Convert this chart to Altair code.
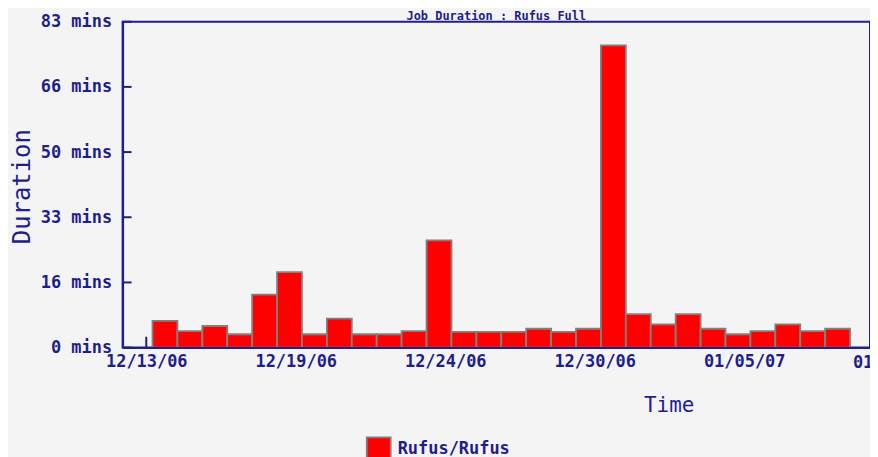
import json
import altair as alt
import pandas as pd

# ---- data ----
days = [
    "2006-12-13", "2006-12-14", "2006-12-15", "2006-12-16", "2006-12-17", "2006-12-18",
    "2006-12-19", "2006-12-20", "2006-12-21", "2006-12-22", "2006-12-23", "2006-12-24",
    "2006-12-25", "2006-12-26", "2006-12-27", "2006-12-28", "2006-12-29", "2006-12-30",
    "2006-12-31", "2007-01-01", "2007-01-02", "2007-01-03", "2007-01-04", "2007-01-05",
    "2007-01-06", "2007-01-07", "2007-01-08", "2007-01-09",
]
durations = [
    6.8, 4.2, 5.5, 3.4, 13.5, 19.2,
    3.4, 7.4, 3.4, 3.4, 4.2, 27.3,
    4.0, 4.0, 4.0, 4.8, 4.0, 4.8,
    77.0, 8.5, 5.9, 8.5, 4.8, 3.4,
    4.2, 5.9, 4.2, 4.8,
]
series_name = "Rufus/Rufus"
y_tick_values = [0, 16.6, 33.2, 49.8, 66.4, 83]
y_tick_labels = ["0 mins", "16 mins", "33 mins", "50 mins", "66 mins", "83 mins"]
x_tick_days = ["2006-12-13", "2006-12-19", "2006-12-25", "2006-12-31", "2007-01-06", "2007-01-12"]
x_tick_labels = ["12/13/06", "12/19/06", "12/24/06", "12/30/06", "01/05/07", "01/11/07"]
title_text = "Job Duration : Rufus Full"

NAVY = "#1e1e8c"
FONT = "DejaVu Sans Mono"
W, H = 750, 327

start = pd.to_datetime(days) + pd.Timedelta(hours=6)
bars = pd.DataFrame({
    "start": start.strftime("%Y-%m-%dT%H:%M:%S"),
    "end": (start + pd.Timedelta(days=1)).strftime("%Y-%m-%dT%H:%M:%S"),
    "duration": durations,
    "series": series_name,
})
yticks = pd.DataFrame({"v": y_tick_values})
xticks = pd.DataFrame({"d": [d + "T00:00:00" for d in x_tick_days], "label": x_tick_labels})

x_domain = [
    alt.DateTime(year=2006, month=12, date=12, hours=1, minutes=12),
    alt.DateTime(year=2007, month=1, date=11, hours=1, minutes=12),
]
x_scale = alt.Scale(domain=x_domain)
y_scale = alt.Scale(domain=[0, 83], nice=False, zero=True)

x_label_expr = (
    json.dumps(x_tick_labels)
    + "[round((datum.value - datetime(2006, 11, 13)) / 518400000)]"
)
y_label_expr = json.dumps(y_tick_labels) + "[round(datum.value / 16.6)]"

x_axis = alt.Axis(
    values=[alt.DateTime(year=int(d[:4]), month=int(d[5:7]), date=int(d[8:10])) for d in x_tick_days],
    labelExpr=x_label_expr, labelFlush=False, labelOverlap=False, labelBound=False,
    ticks=False, tickSize=0, labelPadding=6, grid=False,
    domain=True, domainColor=NAVY, domainWidth=2, zindex=1,
    labelFont=FONT, labelFontSize=17, labelFontWeight="bold", labelColor=NAVY,
    title="Time", titleFont=FONT, titleFontSize=21, titleFontWeight="normal",
    titleColor=NAVY, titleX=548, titleY=58, titleBaseline="middle", titleAlign="center",
)
y_axis = alt.Axis(
    values=y_tick_values, labelExpr=y_label_expr, labelFlush=False,
    ticks=False, tickSize=0, labelPadding=11, grid=False,
    domain=True, domainColor=NAVY, domainWidth=2, zindex=1,
    labelFont=FONT, labelFontSize=17, labelFontWeight="bold", labelColor=NAVY,
    title="Duration", titleFont=FONT, titleFontSize=24, titleFontWeight="normal",
    titleColor=NAVY, titleX=-100, titleY=165, titleBaseline="middle", titleAlign="center",
)

ytick_layer = alt.Chart(yticks).mark_rule(color=NAVY, strokeWidth=2).encode(
    y=alt.Y("v:Q", scale=y_scale, axis=y_axis),
    x=alt.value(0), x2=alt.value(9),
)
xtick_layer = alt.Chart(xticks).mark_rule(color=NAVY, strokeWidth=2, clip=True).encode(
    x=alt.X("d:T", scale=x_scale, axis=x_axis),
    y=alt.value(H), y2=alt.value(H - 11),
)
# the last date label lies past the scale's end, where the axis drops it
last_label_layer = alt.Chart(xticks.tail(1)).mark_text(
    font=FONT, fontSize=17, fontWeight="bold", color=NAVY,
    align="center", baseline="top",
).encode(
    x=alt.X("d:T", scale=x_scale, axis=x_axis),
    y=alt.value(H + 7),
    text="label:N",
)
bar_layer = alt.Chart(bars).mark_rect(stroke="#808080", strokeWidth=1.8).encode(
    x=alt.X("start:T", scale=x_scale, axis=x_axis),
    x2="end:T",
    y=alt.Y("duration:Q", scale=y_scale, axis=y_axis),
    y2=alt.datum(0),
    color=alt.Color(
        "series:N",
        scale=alt.Scale(domain=[series_name], range=["#ff0000"]),
        legend=alt.Legend(
            title=None, orient="none", legendX=244, legendY=416,
            symbolType="square", symbolSize=576, symbolStrokeColor="#808080",
            symbolStrokeWidth=1.8, symbolOpacity=1, symbolFillColor="#ff0000",
            labelFont=FONT, labelFontSize=17, labelFontWeight="bold",
            labelColor=NAVY, labelOffset=6, padding=0,
        ),
    ),
)

chart = alt.layer(ytick_layer, xtick_layer, bar_layer, last_label_layer).properties(
    width=W, height=H,
    title=alt.TitleParams(
        title_text, font=FONT, fontSize=12, fontWeight="bold", color=NAVY,
        anchor="middle", frame="group", offset=0, baseline="alphabetic", dy=19,
    ),
    autosize=alt.AutoSizeParams(type="none"),
    padding={"left": 115, "top": 13, "right": 0, "bottom": 109},
    background="#f4f4f4",
).configure_view(stroke=NAVY, strokeWidth=2)

chart.save("out.html", embed_options={"renderer": "svg", "actions": False})
